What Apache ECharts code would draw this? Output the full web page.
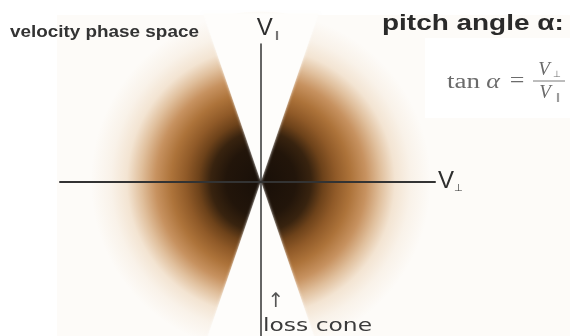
<!DOCTYPE html>
<html>
<head>
<meta charset="utf-8">
<script src="https://cdn.jsdelivr.net/npm/echarts@6/dist/echarts.min.js"></script>
<style>
  html, body { margin: 0; padding: 0; background: #ffffff; }
  #chart { width: 570px; height: 336px; }
</style>
</head>
<body>
<div id="chart"></div>
<script>
// Velocity space, in units of the thermal speed
const vPerpRange = [-3.0, 2.6];
const vParRange = [-2.3, 2.05];

// Radial profile of the (isotropic) distribution: speed and relative phase-space density
const profileSpeed   = [0, 0.52, 0.75, 0.93, 1.12, 1.34, 1.57, 1.79, 2.0, 2.24, 2.54];
const profileDensity = [1.0, 0.96, 0.88, 0.74, 0.62, 0.5, 0.4, 0.25, 0.1, 0.04, 0];

// Half-opening angle of the loss cone around the parallel axis (degrees)
const lossConeAngle = 19;
// The two halves of the cone: along +V∥ and along −V∥
const coneHalves = [1, -1];

// Text
const titleLeft = 'velocity phase space';
const titleRight = 'pitch angle α:';
const coneLabel = 'loss cone';

// Colour ramp: density -> brown shade
const ramp = [
  [0.00, [253, 251, 248]],
  [0.10, [243, 228, 210]],
  [0.25, [224, 191, 156]],
  [0.40, [199, 146, 96]],
  [0.50, [173, 115, 58]],
  [0.62, [144, 90, 40]],
  [0.75, [106, 64, 25]],
  [0.90, [48, 30, 14]],
  [1.00, [24, 15, 8]]
];
function shade(d) {
  for (let i = 1; i < ramp.length; i++) {
    if (d <= ramp[i][0]) {
      const a = ramp[i - 1], b = ramp[i];
      const t = (d - a[0]) / (b[0] - a[0]);
      const c = a[1].map((v, k) => Math.round(v + (b[1][k] - v) * t));
      return 'rgb(' + c.join(',') + ')';
    }
  }
  return 'rgb(' + ramp[ramp.length - 1][1].join(',') + ')';
}

const maxSpeed = profileSpeed[profileSpeed.length - 1];
const densityStops = profileSpeed.map((s, i) => ({
  offset: s / maxSpeed,
  color: shade(profileDensity[i])
}));

const SANS = '"Liberation Sans", Arial, sans-serif';
const SERIF = '"Liberation Serif", "DejaVu Serif", serif';
const MATH = '"DejaVu Sans", sans-serif';

const chart = echarts.init(document.getElementById('chart'), null, { renderer: 'canvas' });

const option = {
  animation: false,
  backgroundColor: '#ffffff',
  grid: { left: 60, right: 135, top: 44, bottom: 0, containLabel: false },
  xAxis: {
    type: 'value',
    min: vPerpRange[0], max: vPerpRange[1],
    z: 10,
    axisLine: { onZero: true, lineStyle: { color: '#333333', width: 2 } },
    axisTick: { show: false }, axisLabel: { show: false }, splitLine: { show: false },
    name: '{v|V}{s|⊥}',
    nameLocation: 'end',
    nameGap: 3,
    nameTextStyle: {
      rich: {
        v: { fontFamily: SANS, fontSize: 24, color: '#2e2e2e' },
        s: { fontFamily: MATH, fontSize: 10, color: '#2e2e2e', verticalAlign: 'bottom' }
      }
    }
  },
  yAxis: {
    type: 'value',
    min: vParRange[0], max: vParRange[1],
    z: 10,
    axisLine: { onZero: true, lineStyle: { color: '#333333', width: 1.5 } },
    axisTick: { show: false }, axisLabel: { show: false }, splitLine: { show: false },
    name: '{v|V}{s|∥}',
    nameLocation: 'end',
    nameGap: 4,
    nameTextStyle: {
      padding: [0, 0, 0, 14],
      rich: {
        v: { fontFamily: SANS, fontSize: 24, color: '#2e2e2e', padding: [0, 2, 0, 0] },
        s: { fontFamily: MATH, fontSize: 9, color: '#2e2e2e', verticalAlign: 'bottom' }
      }
    }
  },
  series: [
    {
      type: 'custom',
      name: 'distribution',
      coordinateSystem: 'cartesian2d',
      clip: false,
      silent: true,
      z: 2,
      data: [[0, 0]],
      renderItem: function (params, api) {
        const c = api.coord([api.value(0), api.value(1)]);
        const r = api.size([maxSpeed, 0])[0];
        return {
          type: 'circle',
          shape: { cx: c[0], cy: c[1], r: r },
          style: { fill: new echarts.graphic.RadialGradient(0.5, 0.5, 0.5, densityStops) }
        };
      }
    },
    {
      type: 'custom',
      name: 'loss cone',
      coordinateSystem: 'cartesian2d',
      clip: false,
      silent: true,
      z: 3,
      data: coneHalves.map(s => [0, s]),
      renderItem: function (params, api) {
        const sign = api.value(1);
        const reach = 2.5;
        const t = Math.tan(lossConeAngle * Math.PI / 180);
        const p0 = api.coord([0, 0]);
        const p1 = api.coord([-reach * t, sign * reach]);
        const p2 = api.coord([reach * t, sign * reach]);
        return {
          type: 'polygon',
          shape: { points: [p0, p1, p2] },
          style: { fill: '#fefdfb', shadowBlur: 3, shadowColor: '#fefdfb' }
        };
      }
    }
  ],
  graphic: {
    elements: [
      // faint tinted panel behind the diagram
      { type: 'rect', z: -5, silent: true, shape: { x: 57, y: 15, width: 513, height: 321 }, style: { fill: '#fdfbf8' } },
      // white box behind the formula
      { type: 'rect', z: -4, silent: true, shape: { x: 425, y: 38, width: 145, height: 80 }, style: { fill: '#ffffff' } },

      { type: 'text', z: 100, x: 10, y: 33, scaleX: 1.18,
        style: { text: titleLeft, font: 'bold 16px ' + SANS, fill: '#333333', textAlign: 'left', textVerticalAlign: 'middle' } },
      { type: 'text', z: 100, x: 382, y: 24, scaleX: 1.27,
        style: { text: titleRight, font: 'bold 22px ' + SANS, fill: '#2a2a2a', textAlign: 'left', textVerticalAlign: 'middle' } },

      // tan α = V⊥ / V∥
      { type: 'text', z: 100, x: 447, y: 83, scaleX: 1.35,
        style: { text: 'tan', font: '20px ' + SERIF, fill: '#6b6b6b', textAlign: 'left', textVerticalAlign: 'middle' } },
      { type: 'text', z: 100, x: 493, y: 83, scaleX: 1.3,
        style: { text: 'α', font: 'italic 20px ' + SERIF, fill: '#6b6b6b', textAlign: 'center', textVerticalAlign: 'middle' } },
      { type: 'text', z: 100, x: 517, y: 82, scaleX: 1.3,
        style: { text: '=', font: '20px ' + SERIF, fill: '#6b6b6b', textAlign: 'center', textVerticalAlign: 'middle' } },
      { type: 'text', z: 100, x: 544, y: 70,
        style: { text: 'V', font: 'italic 19px ' + SERIF, fill: '#6b6b6b', textAlign: 'center', textVerticalAlign: 'middle' } },
      { type: 'text', z: 100, x: 557, y: 75,
        style: { text: '⊥', font: '9px ' + MATH, fill: '#6b6b6b', textAlign: 'center', textVerticalAlign: 'middle' } },
      { type: 'line', z: 100, shape: { x1: 533, y1: 81, x2: 565, y2: 81 }, style: { stroke: '#7a7a7a', lineWidth: 1 } },
      { type: 'text', z: 100, x: 545, y: 93,
        style: { text: 'V', font: 'italic 19px ' + SERIF, fill: '#6b6b6b', textAlign: 'center', textVerticalAlign: 'middle' } },
      { type: 'text', z: 100, x: 558, y: 98,
        style: { text: '∥', font: '9px ' + MATH, fill: '#6b6b6b', textAlign: 'center', textVerticalAlign: 'middle' } },

      // loss-cone annotation
      { type: 'text', z: 100, x: 276, y: 302,
        style: { text: '↑', font: '20px ' + MATH, fill: '#555555', textAlign: 'center', textVerticalAlign: 'middle' } },
      { type: 'text', z: 100, x: 263, y: 326, scaleX: 1.3,
        style: { text: coneLabel, font: '18px ' + MATH, fill: '#3a3a3a', textAlign: 'left', textVerticalAlign: 'middle' } }
    ]
  }
};

chart.setOption(option);
</script>
</body>
</html>
